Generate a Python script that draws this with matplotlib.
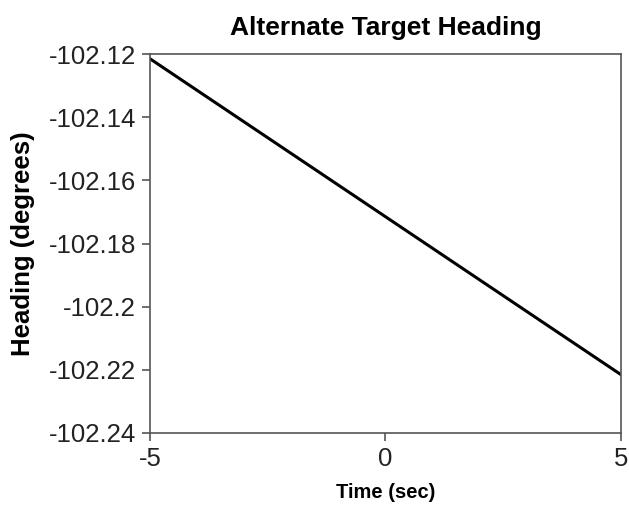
import matplotlib
matplotlib.use("Agg")
import matplotlib.pyplot as plt

plt.rcParams['font.family'] = ['Liberation Sans', 'DejaVu Sans']

# data
time = [-5, 0, 5]
heading = [-102.1215, -102.1715, -102.2215]
yticks = [-102.12, -102.14, -102.16, -102.18, -102.2, -102.22, -102.24]
yticklabels = ['-102.12', '-102.14', '-102.16', '-102.18', '-102.2', '-102.22', '-102.24']
xticks = [-5, 0, 5]

fig = plt.figure(figsize=(6.29, 5.05), dpi=100)
ax = fig.add_axes([0.2385, 0.1426, 0.7485, 0.7504])

ax.plot(time, heading, color='black', linewidth=2.2)

ax.set_xlim(-5, 5)
ax.set_ylim(-102.24, -102.12)
ax.set_xticks(xticks)
ax.set_xticklabels([str(t) for t in xticks])
ax.set_yticks(yticks)
ax.set_yticklabels(yticklabels)

for s in ax.spines.values():
    s.set_color('#555555')
    s.set_linewidth(1.2)
ax.tick_params(direction='out', length=6, width=1.2, color='#555555',
               labelsize=18.5, labelcolor='#222222', pad=4)

ax.set_title("Alternate Target Heading", fontsize=19, fontweight='bold', pad=14)
ax.set_xlabel("Time (sec)", fontsize=14.5, fontweight='bold', labelpad=9)
ax.set_ylabel("Heading (degrees)", fontsize=18.5, fontweight='bold', labelpad=10)

fig.savefig("out.png", dpi=100)
